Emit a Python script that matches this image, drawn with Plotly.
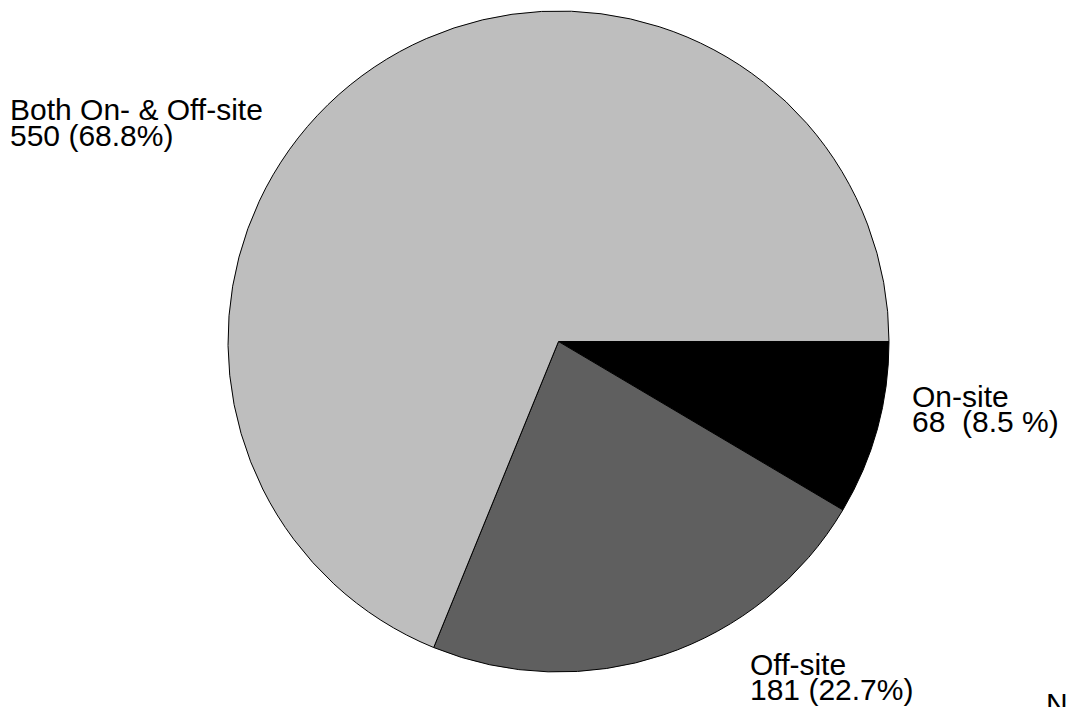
import plotly.graph_objects as go

# Survey responses by training location
categories = ["On-site", "Off-site", "Both On- & Off-site"]
counts = [68, 181, 550]
slice_colors = ["#000000", "#5f5f5f", "#bebebe"]

total = sum(counts)
W, H = 1069, 707


def pct_text(n):
    p = 100 * n / total
    if p < 10:
        # narrow percentages are padded so the columns line up
        return f"{n}\u00a0\u00a0({p:.1f}\u00a0%)"
    return f"{n} ({p:.1f}%)"


fig = go.Figure(
    go.Pie(
        labels=categories,
        values=counts,
        sort=False,
        direction="clockwise",
        rotation=90,
        marker=dict(colors=slice_colors, line=dict(color="#000000", width=1)),
        textinfo="none",
        hoverinfo="label+value+percent",
        domain=dict(x=[227 / W, 890 / W], y=[1 - 672 / H, 1 - 11 / H]),
        showlegend=False,
    )
)

# label anchor positions (pixels: left x, cap-centre y of each line)
label_pos = {
    "On-site": (910, 396, 421),
    "Off-site": (748, 664, 689),
    "Both On- & Off-site": (8, 109, 135),
}

font = dict(family="Liberation Sans, Arial, sans-serif", size=30, color="#000000")
annotations = []
for name, n in zip(categories, counts):
    x, y1, y2 = label_pos[name]
    for txt, y in ((name, y1), (pct_text(n), y2)):
        annotations.append(
            dict(
                text=txt,
                x=x / W,
                y=1 - y / H,
                xref="paper",
                yref="paper",
                xanchor="left",
                yanchor="middle",
                showarrow=False,
                font=font,
            )
        )

annotations.append(
    dict(
        text=f"N = {total}",
        x=1044 / W,
        y=1 - 703 / H,
        xref="paper",
        yref="paper",
        xanchor="left",
        yanchor="middle",
        showarrow=False,
        font=font,
    )
)

fig.update_layout(
    width=W,
    height=H,
    margin=dict(l=0, r=0, t=0, b=0),
    paper_bgcolor="#ffffff",
    plot_bgcolor="#ffffff",
    annotations=annotations,
)

fig.write_html("out.html")
